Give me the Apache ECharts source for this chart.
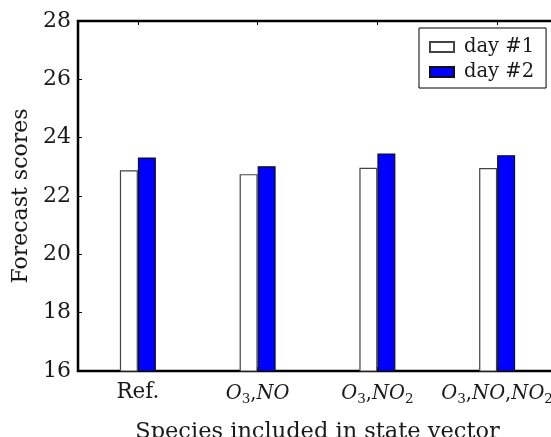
<!DOCTYPE html>
<html>
<head>
<meta charset="utf-8">
<script src="https://cdn.jsdelivr.net/npm/echarts@6/dist/echarts.min.js"></script>
<style>
  html, body { margin: 0; padding: 0; background: #fff; }
  #chart { width: 551px; height: 437px; }
</style>
</head>
<body>
<div id="chart"></div>
<script>
// Forecast scores for each choice of species in the state vector
const categories = ['Ref.', 'O3,NO', 'O3,NO2', 'O3,NO,NO2'];
const seriesNames = ['day #1', 'day #2'];
const day1Scores = [22.88, 22.75, 22.97, 22.96];
const day2Scores = [23.32, 23.02, 23.46, 23.40];
const yTicks = [16, 18, 20, 22, 24, 26, 28];

const SERIF = '"DejaVu Serif", serif';

// Chemical species names: letters italic, digits as subscripts, commas upright
function speciesLabel(name) {
  if (name === 'Ref.') return '{r|Ref.}';
  let out = '';
  let i = 0;
  while (i < name.length) {
    const ch = name[i];
    if (/[A-Za-z]/.test(ch)) {
      let j = i;
      while (j < name.length && /[A-Za-z]/.test(name[j])) j++;
      out += '{i|' + name.slice(i, j) + '}';
      i = j;
    } else if (/[0-9]/.test(ch)) {
      out += '{s|' + ch + '}';
      i++;
    } else {
      out += '{c|' + ch + '}';
      i++;
    }
  }
  return out;
}

const chart = echarts.init(document.getElementById('chart'), null, { renderer: 'canvas' });

const axisText = { fontFamily: SERIF, fontSize: 22, color: '#1a1a1a' };

chart.setOption({
  animation: false,
  backgroundColor: '#fff',
  grid: {
    left: 78, top: 21, right: -6, bottom: 66,
    containLabel: false,
    outerBoundsMode: 'none',
    show: true, borderColor: '#000', borderWidth: 2.5, backgroundColor: 'transparent'
  },
  legend: {
    data: seriesNames,
    orient: 'vertical',
    left: 419, top: 28,
    padding: [9, 12, 6, 10],
    itemGap: 5,
    itemWidth: 24, itemHeight: 10,
    icon: 'rect',
    borderColor: '#000', borderWidth: 1, borderRadius: 0,
    backgroundColor: '#fff',
    textStyle: { fontFamily: SERIF, fontSize: 19.5, color: '#1a1a1a', padding: [0, 0, 0, 5] }
  },
  xAxis: [{
    type: 'category',
    data: categories,
    position: 'bottom',
    axisLine: { show: false },
    axisTick: { show: true, inside: true, alignWithLabel: true, length: 4, lineStyle: { color: '#000' } },
    axisLabel: {
      interval: 0,
      margin: 10,
      formatter: speciesLabel,
      rich: {
        r: { fontFamily: SERIF, fontSize: 21.5, color: '#1a1a1a' },
        c: { fontFamily: SERIF, fontSize: 19.5, color: '#1a1a1a' },
        i: { fontFamily: SERIF, fontStyle: 'italic', fontSize: 19.5, color: '#1a1a1a' },
        s: { fontFamily: SERIF, fontSize: 13.5, color: '#1a1a1a', padding: [11, 0, 0, 0] }
      }
    },
    name: 'Species included in state vector',
    nameLocation: 'middle',
    nameGap: 50,
    nameTextStyle: { ...axisText, fontSize: 22.5 }
  }, {
    type: 'category',
    data: categories,
    position: 'top',
    axisLine: { show: false },
    axisTick: { show: true, inside: true, alignWithLabel: true, length: 4, lineStyle: { color: '#000' } },
    axisLabel: { show: false }
  }],
  yAxis: {
    type: 'value',
    min: yTicks[0],
    max: yTicks[yTicks.length - 1],
    interval: 2,
    axisLine: { show: false },
    splitLine: { show: false },
    axisTick: { show: true, inside: true, length: 4, lineStyle: { color: '#000' } },
    axisLabel: { margin: 7, ...axisText },
    name: 'Forecast scores',
    nameLocation: 'middle',
    nameGap: 42,
    nameRotate: 90,
    nameTextStyle: axisText
  },
  series: [{
    name: seriesNames[0],
    type: 'bar',
    data: day1Scores,
    barWidth: 18,
    barGap: '0%',
    itemStyle: { color: '#ffffff', borderColor: '#444', borderWidth: 1.2 }
  }, {
    name: seriesNames[1],
    type: 'bar',
    data: day2Scores,
    barWidth: 18,
    barGap: '0%',
    itemStyle: { color: '#0000ff', borderColor: '#111', borderWidth: 1.2 }
  }]
});
</script>
</body>
</html>
